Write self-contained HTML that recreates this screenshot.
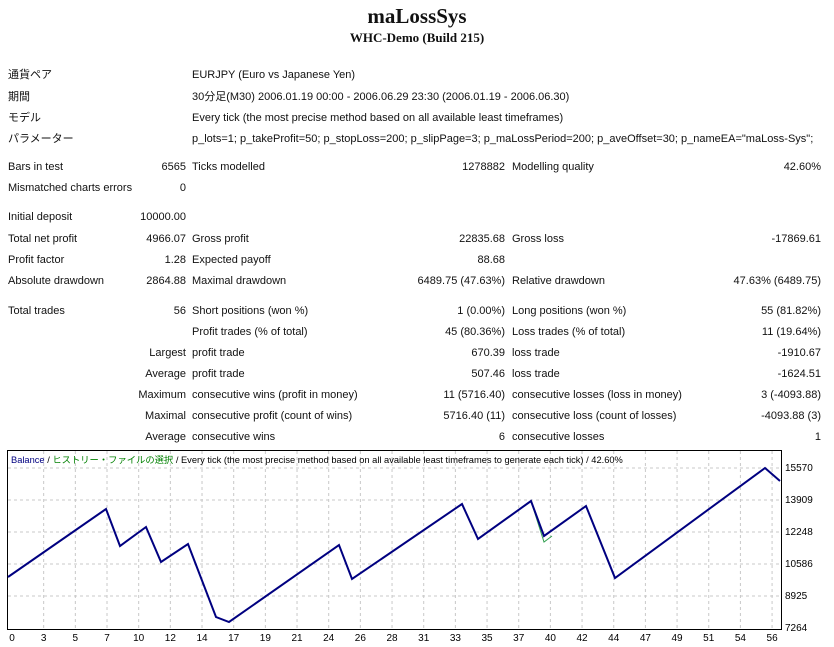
<!DOCTYPE html>
<html><head><meta charset="utf-8"><style>
body{margin:0;width:834px;height:647px;background:#fff;position:relative;overflow:hidden;font-family:"Liberation Sans","Noto Sans CJK JP",sans-serif;font-size:11px;color:#111}
.t{position:absolute;white-space:nowrap;line-height:13px}
.r{text-align:right}
</style></head><body>
<div class="t" style="left:0;width:834px;top:4px;text-align:center;font:bold 21px 'Liberation Serif',serif;line-height:24px">maLossSys</div>
<div class="t" style="left:0;width:834px;top:30px;text-align:center;font:bold 13px 'Liberation Serif',serif">WHC-Demo (Build 215)</div>
<div id="tbl"></div>
<svg style="position:absolute;left:0;top:0" width="834" height="647">
<rect x="7.5" y="450.5" width="774" height="179" fill="#fff" stroke="#000"/>
<g stroke="#c8c8c8" stroke-dasharray="3,3">
<line x1="8" x2="781" y1="468" y2="468"/><line x1="8" x2="781" y1="500" y2="500"/><line x1="8" x2="781" y1="532" y2="532"/><line x1="8" x2="781" y1="564" y2="564"/><line x1="8" x2="781" y1="596" y2="596"/>
</g>
<g id="vg" stroke="#c8c8c8" stroke-dasharray="3,3"></g>
<polyline fill="none" stroke="#32a050" stroke-width="1" points="531,501 544,542 552,536"/>
<polyline fill="none" stroke="#000080" stroke-width="2" points="8,577 106,509 120,546 146,527 161,562 188,544 216,617 229,622 339,545 352,579 462,504 478,539 531,501 544,536 586,506 615,578 765,468 780,481"/>
<g font-size="10" font-family="Liberation Sans,sans-serif">
<text x="785" y="471">15570</text><text x="785" y="503">13909</text><text x="785" y="535">12248</text><text x="785" y="567">10586</text><text x="785" y="599">8925</text><text x="785" y="631">7264</text>
</g>
<g id="xl" font-size="10" font-family="Liberation Sans,sans-serif" text-anchor="middle"></g>
<text x="11" y="463" font-size="9.3" font-family="Liberation Sans,'Noto Sans CJK JP',sans-serif"><tspan fill="#000080">Balance</tspan> / <tspan fill="#008000">ヒストリー・ファイルの選択</tspan> / Every tick (the most precise method based on all available least timeframes to generate each tick) / 42.60%</text>
</svg>
<script>
var rows=[
[74,"通貨ペア","","EURJPY (Euro vs Japanese Yen)"],
[96,"期間","","30分足(M30) 2006.01.19 00:00 - 2006.06.29 23:30 (2006.01.19 - 2006.06.30)"],
[117,"モデル","","Every tick (the most precise method based on all available least timeframes)"],
[138,"パラメーター","","p_lots=1; p_takeProfit=50; p_stopLoss=200; p_slipPage=3; p_maLossPeriod=200; p_aveOffset=30; p_nameEA=\"maLoss-Sys\";"],
[166,"Bars in test","6565","Ticks modelled","1278882","Modelling quality","42.60%"],
[187,"Mismatched charts errors","0"],
[216,"Initial deposit","10000.00"],
[238,"Total net profit","4966.07","Gross profit","22835.68","Gross loss","-17869.61"],
[259,"Profit factor","1.28","Expected payoff","88.68"],
[280,"Absolute drawdown","2864.88","Maximal drawdown","6489.75 (47.63%)","Relative drawdown","47.63% (6489.75)"],
[310,"Total trades","56","Short positions (won %)","1 (0.00%)","Long positions (won %)","55 (81.82%)"],
[331,"","","Profit trades (% of total)","45 (80.36%)","Loss trades (% of total)","11 (19.64%)"],
[352,"","Largest","profit trade","670.39","loss trade","-1910.67"],
[373,"","Average","profit trade","507.46","loss trade","-1624.51"],
[394,"","Maximum","consecutive wins (profit in money)","11 (5716.40)","consecutive losses (loss in money)","3 (-4093.88)"],
[415,"","Maximal","consecutive profit (count of wins)","5716.40 (11)","consecutive loss (count of losses)","-4093.88 (3)"],
[436,"","Average","consecutive wins","6","consecutive losses","1"]];
var h="";
rows.forEach(function(r){var y=r[0]-5;
h+='<div class="t" style="left:8px;top:'+y+'px">'+r[1]+'</div>';
if(r[2])h+='<div class="t r" style="right:'+(834-186)+'px;top:'+y+'px">'+r[2]+'</div>';
if(r[3])h+='<div class="t" style="left:192px;top:'+y+'px">'+r[3].replace(/</g,"&lt;")+'</div>';
if(r[4])h+='<div class="t r" style="right:'+(834-505)+'px;top:'+y+'px">'+r[4]+'</div>';
if(r[5])h+='<div class="t" style="left:512px;top:'+y+'px">'+r[5]+'</div>';
if(r[6])h+='<div class="t r" style="right:'+(834-821)+'px;top:'+y+'px">'+r[6]+'</div>';
});
document.getElementById("tbl").innerHTML=h;
var L=[0,3,5,7,10,12,14,17,19,21,24,26,28,31,33,35,37,40,42,44,47,49,51,54,56],s="",g="";
L.forEach(function(v,i){var x=12+i*31.67;s+='<text x="'+x+'" y="641">'+v+'</text>';
if(i>0)g+='<line x1="'+x+'" x2="'+x+'" y1="451" y2="629"/>';});
document.getElementById("xl").innerHTML=s;document.getElementById("vg").innerHTML=g;
</script>
</body></html>
